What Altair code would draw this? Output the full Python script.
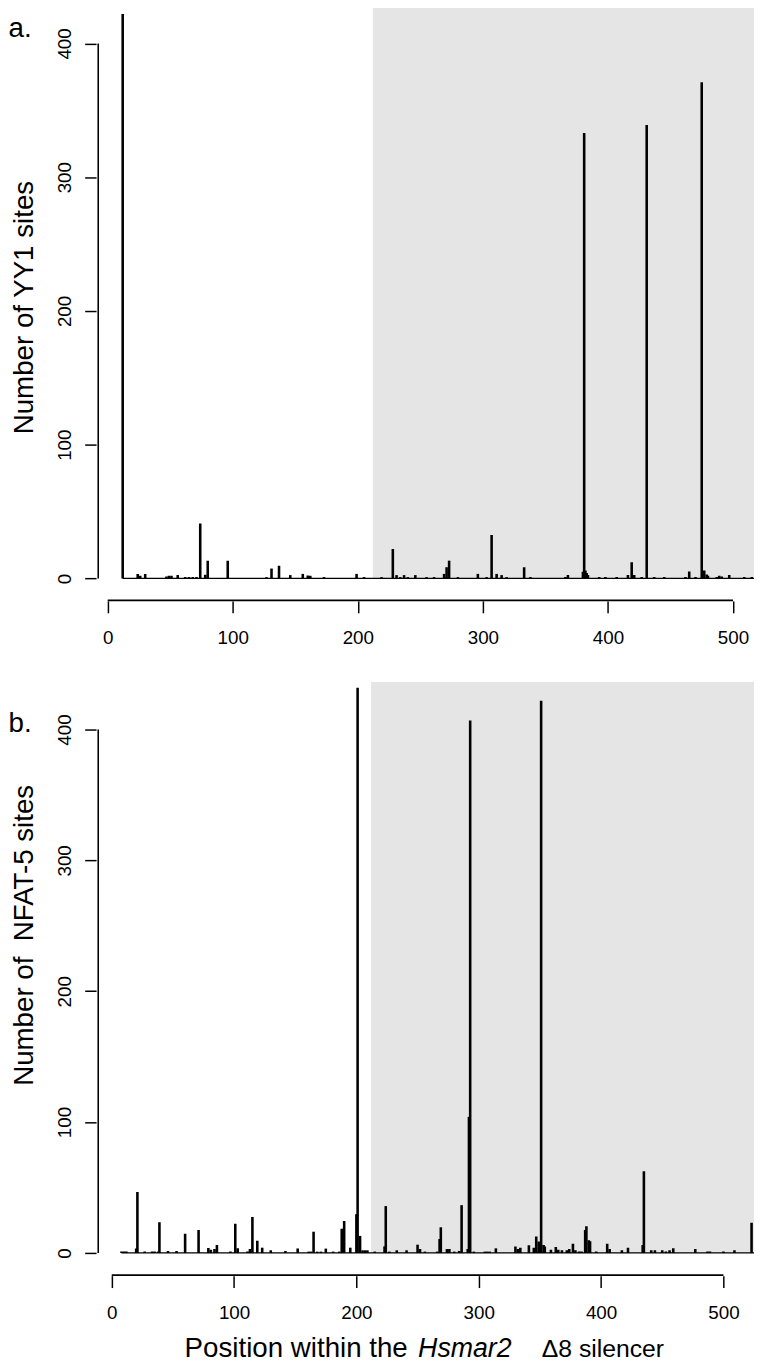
import altair as alt
import pandas as pd

# ---------------- data ----------------
# panel a: YY1 sites along the Hsmar2 delta8 silencer
pos_a = [12, 24, 26, 30, 47, 49, 51, 56, 62, 65, 68, 71, 74, 78, 80, 96,
         127, 131, 137, 146, 156, 160, 162, 173, 199, 205, 219, 228, 231, 234,
         237, 240, 246, 255, 261, 269, 271, 273, 280, 296, 303, 307, 311, 315,
         319, 333, 338, 366, 368, 380, 381, 382, 383, 384, 393, 398, 407, 416,
         419, 421, 427, 431, 437, 445, 462, 465, 470, 475, 477, 479, 480, 487,
         489, 491, 497, 509, 515]
cnt_a = [422, 3.4, 2, 3.4, 1.5, 2, 2, 2.5, 1, 1, 1, 1, 41, 2.8, 13.3, 13.3,
         1, 7.4, 9.5, 2.5, 3.4, 2.2, 2, 1, 3.4, 1, 1, 22, 2.5, 1,
         2.5, 1, 2.5, 1, 1, 3.4, 8.4, 13.3, 1, 3.4, 1, 32.5, 3.4, 2.5,
         1, 8.4, 1, 1, 2.5, 5, 333, 6, 4, 2.5, 1, 1, 1, 2.5,
         12.2, 2.5, 1, 339, 1, 1, 1, 5.2, 1, 371, 6, 3, 2, 1,
         2, 1.5, 2.5, 1, 1]

# panel b: NFAT-5 sites
pos_b = [8, 10, 12, 20, 21, 27, 33, 35, 38, 39, 46, 53, 60, 71, 79, 81, 84, 86,
         97, 101, 103, 111, 113, 115, 119, 123, 130, 142, 152, 161, 163, 165,
         168, 171, 175, 181, 186, 188, 190, 195, 200, 201, 203, 205, 207, 209,
         215, 223, 224, 227, 233, 241, 250, 252, 256, 266, 268, 269, 274, 276,
         280, 284, 286, 291, 292, 293, 296, 305, 307, 309, 314, 330, 332, 334,
         341, 345, 347, 349, 350, 351, 353, 354, 359, 363, 365, 368, 372, 374,
         377, 379, 382, 384, 387, 388, 390, 391, 396, 405, 407, 417, 422, 434,
         435, 441, 444, 450, 453, 456, 459, 477, 487, 489, 500, 509, 523]
cnt_b = [1, 1, 1, 3.3, 46.6, 1, 1, 1, 1, 23.5, 1.5, 1.5, 14.6, 17.5, 3.8, 2.5, 3, 6,
         1, 22.2, 3.5, 1, 3, 27.5, 9.3, 4, 2, 1.5, 3.4, 1, 1, 16.2,
         1, 1, 3.3, 1, 1, 18.5, 24.4, 4, 29.6, 432, 13, 2, 2, 2,
         1, 5, 35.8, 1, 2, 2, 6.3, 3, 1, 1, 10.6, 19.6, 3, 3,
         1, 1.5, 36.5, 3, 104, 407, 1, 1, 1, 1, 3.5, 5, 3, 4,
         5.8, 4, 12.6, 8.7, 6, 422, 6, 5, 2.5, 4.5, 2.5, 2, 2, 3,
         7, 2, 1, 1, 17.6, 20.3, 9.6, 9, 1, 7, 3, 2, 4, 6,
         62.5, 2, 2, 2, 1, 2, 3.5, 3, 1, 1, 1, 2, 23]

x_ticks = [0, 100, 200, 300, 400, 500]
y_ticks = [0, 100, 200, 300, 400]
shade_start = 212
title_a = "Number of YY1 sites"
title_b = "Number of \u00a0NFAT-5 sites"
xtitle_parts = ["Position within the", "Hsmar2", "\u03948 silencer"]
xtitle_styles = ["normal", "italic", "normal"]
xtitle_sizes = [28, 27, 25]

# ---------------- layout / style ----------------
FONT = "Liberation Sans"
W = 665
H = 600


def panel(pos, cnt, xdom, ydom, ytitle, ytitle_y, letter, letter_x, letter_y, start, xtitle=False):
    xs = alt.Scale(domain=xdom, nice=False, zero=False)
    ys = alt.Scale(domain=ydom, nice=False, zero=False)
    xax = alt.Axis(values=x_ticks, domain=False, grid=False, tickSize=12,
                   tickColor="black", tickWidth=1.5, labelFont=FONT,
                   labelFontSize=19, labelColor="black", labelPadding=16,
                   labelBaseline="top", labelFlush=False, labelOverlap=False,
                   format="d", title=None)
    yax = alt.Axis(values=y_ticks, domain=False, grid=False, tickSize=11.5,
                   tickColor="black", tickWidth=1.5, labelFont=FONT,
                   labelFontSize=19, labelColor="black", labelAngle=270,
                   labelAlign="center", labelBaseline="alphabetic",
                   labelPadding=14, labelFlush=False, labelOverlap=False,
                   format="d", title=ytitle, titleFont=FONT,
                   titleFontSize=28, titleFontWeight="normal",
                   titleColor="black", titleAngle=270, titleX=-64.5,
                   titleY=ytitle_y, titleAlign="center",
                   titleBaseline="alphabetic")

    shade = alt.Chart(pd.DataFrame({"x": [shade_start], "x2": [xdom[1]],
                                    "y": [0], "y2": [ydom[1]]})).mark_rect(
        color="#e5e5e5", clip=True).encode(
        x=alt.X("x:Q", scale=xs, axis=xax), x2="x2:Q",
        y=alt.Y("y:Q", scale=ys, axis=yax), y2="y2:Q")

    base = alt.Chart(pd.DataFrame({"x": [start], "x2": [xdom[1]], "y": [0]})).mark_rule(
        color="black", strokeWidth=1.3, clip=True).encode(
        x=alt.X("x:Q", scale=xs, axis=xax), x2="x2:Q",
        y=alt.Y("y:Q", scale=ys, axis=yax))

    df = pd.DataFrame({"pos": pos, "count": cnt, "zero": [0] * len(pos)})
    spikes = alt.Chart(df).mark_rule(color="black", strokeWidth=2.6, clip=True).encode(
        x=alt.X("pos:Q", scale=xs, axis=xax),
        y=alt.Y("count:Q", scale=ys, axis=yax),
        y2="zero:Q")

    # R-style axis lines spanning only the first to the last tick
    yl = ydom[0] + 0.4
    xaxis_line = alt.Chart(pd.DataFrame({"x": [x_ticks[0]], "x2": [x_ticks[-1]],
                                         "y": [yl]})).mark_rule(
        color="black", strokeWidth=1.6).encode(
        x=alt.X("x:Q", scale=xs, axis=xax), x2="x2:Q",
        y=alt.Y("y:Q", scale=ys, axis=yax))

    yaxis_line = alt.Chart(pd.DataFrame({"y": [y_ticks[0]],
                                         "y2": [y_ticks[-1]]})).mark_rule(
        color="black", strokeWidth=1.6).encode(
        x=alt.value(2.2),
        y=alt.Y("y:Q", scale=ys, axis=yax), y2="y2:Q")

    lab = alt.Chart(pd.DataFrame({"t": [letter]})).mark_text(
        align="left", baseline="alphabetic", font=FONT, fontSize=28, color="black").encode(
        x=alt.value(letter_x), y=alt.value(letter_y), text="t:N")

    layers = [shade, base, spikes, xaxis_line, yaxis_line, lab]

    if xtitle:
        offsets = [89.5, 325.5, 450.5]
        for txt, sty, fs, off in zip(xtitle_parts, xtitle_styles, xtitle_sizes, offsets):
            layers.append(alt.Chart(pd.DataFrame({"t": [txt]})).mark_text(
                align="left", baseline="alphabetic", font=FONT, fontSize=fs,
                fontStyle=sty, color="black").encode(
                x=alt.value(off), y=alt.value(682), text="t:N"))

    return alt.layer(*layers).properties(width=W, height=H)


pa = panel(pos_a, cnt_a, [-9.3, 516.8], [-16.8, 427.0], title_a, 303, "a.", -88.5, 30, 12)
pb = panel(pos_b, cnt_b, [-12.8, 525.0], [-17.4, 436.3], title_b, 255.5, "b.", -88.5, 50, 8,
           xtitle=True)

chart = alt.vconcat(pa, pb, spacing=35).properties(
    padding={"left": 0, "top": -8, "right": 0, "bottom": -4}
).configure(font=FONT).configure_view(stroke=None)

chart.save("out.html", embed_options={"renderer": "svg", "actions": False})
